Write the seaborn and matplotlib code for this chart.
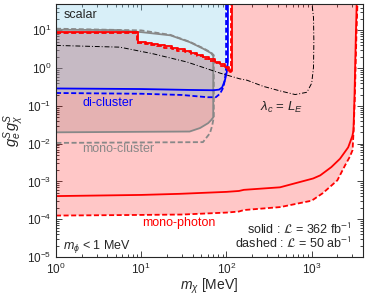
import numpy as np
import pandas as pd
import matplotlib
matplotlib.use("Agg")
import matplotlib.pyplot as plt
import seaborn as sns
from matplotlib.ticker import LogLocator, NullFormatter

# ---- data (x in MeV) ----
TOP = 60

# mono-photon, lower edge
mp_lo_x = [1, 10, 28, 100, 140, 160, 425, 1040, 1260, 1700, 2150, 2680, 3000, 3090, 3170, 3300, 3380]
mp_lo_y = [4.1e-4, 4.4e-4, 4.7e-4, 5.3e-4, 5.6e-4, 6.0e-4, 7.0e-4, 1.2e-3, 1.45e-3, 2.4e-3, 4.0e-3, 8.0e-3, 0.016, 0.022, 0.14, 8, TOP]
mp_lo_dash_x = [1, 10, 30, 100, 140, 160, 430, 1000, 1350, 2000, 2470, 2800, 3020, 3100, 3200, 3350, 3450]
mp_lo_dash_y = [1.25e-4, 1.3e-4, 1.33e-4, 1.5e-4, 1.6e-4, 1.75e-4, 2.1e-4, 3.1e-4, 4.9e-4, 1.07e-3, 2.7e-3, 4.5e-3, 6.8e-3, 0.022, 0.14, 8, TOP]

# mono-photon, upper edge (stairs: edges + levels)
mp_up_edges = [1, 9.2, 11.4, 13.4, 15.7, 19.0, 23.0, 27.0, 32.7, 38.4, 45.2, 53.1, 62.5, 73.5, 84.1, 96.3, 106, 116]
mp_up_levels = [9.0, 4.9, 4.67, 4.39, 4.13, 3.77, 3.44, 3.14, 2.87, 2.54, 2.25, 1.93, 1.71, 1.47, 1.26, 1.08, 0.85]
mp_up_dash_edges = [1, 9.0, 11.2, 13.2, 15.5, 18.7, 22.7, 26.6, 32.3, 38.0, 44.7, 52.5, 61.8, 72.7, 83.2, 95, 104, 112]
mp_up_dash_levels = [8.6, 4.5, 4.3, 4.05, 3.8, 3.45, 3.15, 2.9, 2.65, 2.35, 2.07, 1.78, 1.58, 1.36, 1.16, 1.0, 0.79]

# mono-cluster
mc_x = [1, 5, 10, 22, 37, 53, 66, 70, 70, 66, 61, 49, 37, 1]
mc_y = [10.4, 10.2, 9.0, 7.4, 4.9, 3.3, 2.5, 2.1, 0.05, 0.042, 0.035, 0.026, 0.021, 0.02]
mc_dash_x = [1, 10, 22, 37, 53, 66, 71, 71, 68, 64, 53, 1]
mc_dash_y = [11.1, 10.0, 7.6, 5.0, 3.4, 2.6, 2.2, 0.05, 0.03, 0.019, 0.011, 0.0105]

# di-cluster
dc_x = [1, 10, 37, 70, 82, 89, 96, 101, 104, 104]
dc_y = [0.29, 0.28, 0.265, 0.26, 0.27, 0.31, 0.48, 0.8, 1.5, TOP]
dc_dash_x = [1, 10, 30, 60, 75, 84, 92, 96, 99, 99]
dc_dash_y = [0.22, 0.21, 0.195, 0.17, 0.17, 0.21, 0.31, 0.5, 1.0, TOP]

# lambda_c = L_E
lam_x = [1, 5.6, 13.8, 34.6, 84, 144, 174, 270, 425, 640, 880, 1000, 1050, 1060, 1050, 1000]
lam_y = [4.0, 3.6, 2.4, 1.45, 0.74, 0.52, 0.48, 0.33, 0.25, 0.2, 0.23, 0.4, 1.05, 5, 22, TOP]


def stairs(edges, levels):
    xs, ys = [], []
    for i, lv in enumerate(levels):
        xs += [edges[i], edges[i + 1]]
        ys += [lv, lv]
    return xs + [edges[-1]], ys + [TOP]


up_x, up_y = stairs(mp_up_edges, mp_up_levels)
upd_x, upd_y = stairs(mp_up_dash_edges, mp_up_dash_levels)

sns.set_style("ticks")
plt.rcParams["font.family"] = ["Liberation Sans", "DejaVu Sans"]
plt.rcParams["mathtext.fontset"] = "custom"
plt.rcParams["mathtext.rm"] = "Liberation Sans"
plt.rcParams["mathtext.it"] = "Liberation Sans:italic"
plt.rcParams["mathtext.bf"] = "Liberation Sans:bold"

fig, ax = plt.subplots(figsize=(3.74, 2.98), dpi=100)
fig.subplots_adjust(left=0.1497, right=0.9706, bottom=0.1376, top=0.9866)
ax.set_xscale("log")
ax.set_yscale("log")

# fills
pink = ax.fill(mp_lo_dash_x + up_x[::-1], mp_lo_dash_y + up_y[::-1],
               color="red", alpha=0.22, lw=0, zorder=1)[0]
grey = ax.fill(mc_x, mc_y, color="black", alpha=0.1, lw=0, zorder=2)[0]
grey.set_clip_path(pink)
ax.fill(dc_dash_x + [1], dc_dash_y + [TOP], color="#87ceeb", alpha=0.32, lw=0, zorder=3)

dash = (0, (2.8, 1.4))
kw = dict(sort=False, estimator=None, ax=ax, zorder=5)
sns.lineplot(x=mc_x, y=mc_y, color="#888888", lw=1.3, **kw)
sns.lineplot(x=mc_dash_x, y=mc_dash_y, color="#888888", lw=1.3, ls=dash, **kw)
sns.lineplot(x=dc_x, y=dc_y, color="blue", lw=1.3, **kw)
sns.lineplot(x=dc_dash_x, y=dc_dash_y, color="blue", lw=1.3, ls=dash, **kw)
sns.lineplot(x=lam_x, y=lam_y, color="black", lw=0.7, ls=(0, (5, 2, 1, 2)), **kw)
sns.lineplot(x=mp_lo_x, y=mp_lo_y, color="red", lw=1.3, **kw)
sns.lineplot(x=mp_lo_dash_x, y=mp_lo_dash_y, color="red", lw=1.3, ls=dash, **kw)
sns.lineplot(x=up_x, y=up_y, color="red", lw=1.3, **kw)
sns.lineplot(x=upd_x, y=upd_y, color="red", lw=1.3, ls=dash, **kw)

ax.set_xlim(1, 4000)
ax.set_ylim(1e-5, 50)
ax.xaxis.set_major_locator(LogLocator(base=10, numticks=20))
ax.xaxis.set_minor_locator(LogLocator(base=10, subs=np.arange(2, 10), numticks=20))
ax.yaxis.set_major_locator(LogLocator(base=10, numticks=20))
ax.yaxis.set_minor_locator(LogLocator(base=10, subs=np.arange(2, 10), numticks=20))
ax.xaxis.set_minor_formatter(NullFormatter())
ax.yaxis.set_minor_formatter(NullFormatter())
ax.tick_params(which="both", direction="in", top=True, right=True, labelsize=8.5, width=0.6)
ax.tick_params(which="major", length=4)
ax.tick_params(which="minor", length=2)
for s in ax.spines.values():
    s.set_linewidth(0.8)
    s.set_zorder(10)

ax.set_xlabel(r"$m_\chi$ [MeV]", fontsize=10, labelpad=0)
ax.set_ylabel(r"$g_e^S g_\chi^S$", fontsize=10.5)
ax.yaxis.set_label_coords(-0.098, 0.5)

t = ax.transAxes
ax.text(0.026, 0.957, "scalar", transform=t, fontsize=9, va="center")
ax.text(0.085, 0.609, "di-cluster", transform=t, fontsize=9, va="center", color="blue")
ax.text(0.085, 0.427, "mono-cluster", transform=t, fontsize=9, va="center", color="#888888")
ax.text(0.28, 0.134, "mono-photon", transform=t, fontsize=9, va="center", color="red")
ax.text(0.733, 0.593, r"$\lambda_c$ = $L_E$", transform=t, fontsize=9.5, va="center", ha="center")
ax.text(0.023, 0.04, r"$m_\phi$ < 1 MeV", transform=t, fontsize=9, va="center")
ax.text(0.964, 0.11, r"solid : $\mathcal{L}$ = 362 fb$^{-1}$", transform=t, fontsize=9,
        va="center", ha="right", math_fontfamily="stixsans")
ax.text(0.964, 0.055, r"dashed : $\mathcal{L}$ = 50 ab$^{-1}$", transform=t, fontsize=9,
        va="center", ha="right", math_fontfamily="stixsans")

fig.savefig("out.png", dpi=100)
